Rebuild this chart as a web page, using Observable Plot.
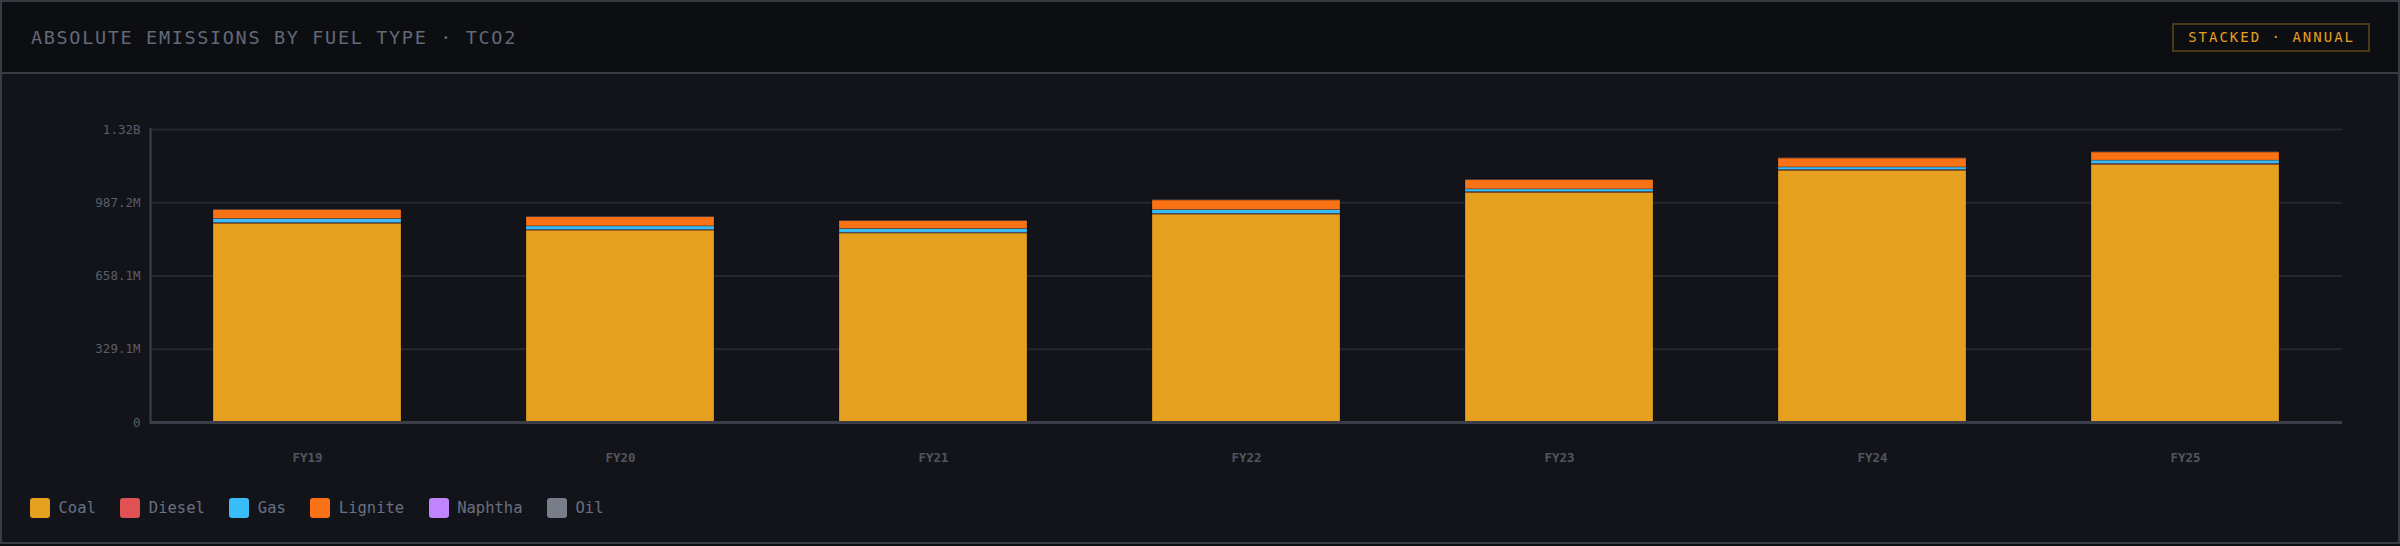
<!DOCTYPE html>
<html>
<head>
<meta charset="utf-8">
<script src="https://cdn.jsdelivr.net/npm/d3@7"></script>
<script src="https://cdn.jsdelivr.net/npm/@observablehq/plot@0.6"></script>
<style>
  html, body { margin: 0; padding: 0; background: #0c0d10; }
  #frame { width: 2400px; height: 544px; box-sizing: border-box; border: 2px solid #383a44; background: #131419; font-family: "DejaVu Sans Mono", monospace; overflow: hidden; }
  #header { height: 70px; border-bottom: 2px solid #383a44; background: #0d0e12; display: flex; align-items: center; justify-content: space-between; padding: 0 28px 0 29px; }
  #title { font-size: 18.5px; letter-spacing: 1.65px; color: #626978; }
  #badge { font-size: 14px; letter-spacing: 2px; color: #e6a020; border: 2px solid #4a3818; padding: 5px 13px 5px 14px; line-height: 15px; }
  #chart { height: 400px; }
  #legend { display: flex; align-items: center; padding: 24px 0 0 28px; height: 20px; }
  .item { display: flex; align-items: center; margin-right: 24.5px; }
  .sw { width: 20px; height: 20px; border-radius: 3px; margin-right: 8.5px; }
  .lab { font-size: 15.5px; color: #687081; }
</style>
</head>
<body>
<div id="frame">
  <div id="header"><div id="title"></div><div id="badge"></div></div>
  <div id="chart"></div>
  <div id="legend"></div>
</div>
<script>
const titleText = "ABSOLUTE EMISSIONS BY FUEL TYPE · TCO2";
const badgeText = "STACKED · ANNUAL";
const years = ["FY19", "FY20", "FY21", "FY22", "FY23", "FY24", "FY25"];
const fuels = ["Coal", "Diesel", "Gas", "Lignite", "Naphtha", "Oil"];
const fuelColors = ["#e6a020", "#e05252", "#38bdf8", "#f97316", "#c084fc", "#787d8a"];
// values in million tCO2
const coal    = [893, 862, 849, 934, 1032, 1131, 1158];
const diesel  = [3.2, 3.0, 2.8, 3.1, 3.3, 3.5, 3.6];
const gas     = [18, 16, 17.5, 17.5, 12, 11.5, 15];
const lignite = [41, 42, 36, 43.5, 42, 40.5, 37];
const naphtha = [0.6, 0.6, 0.5, 0.6, 0.6, 0.6, 0.6];
const oil     = [1.4, 1.4, 1.3, 1.4, 1.4, 1.3, 1.3];
const yMax = 1316.3e6;
const yTicks = [0, 329.075e6, 658.15e6, 987.225e6, 1316.3e6];
const yTickLabels = ["0", "329.1M", "658.1M", "987.2M", "1.32B"];

document.getElementById("title").textContent = titleText;
document.getElementById("badge").textContent = badgeText;

const series = [coal, diesel, gas, lignite, naphtha, oil];
const data = [];
years.forEach((yr, i) => {
  fuels.forEach((f, j) => data.push({year: yr, fuel: f, value: series[j][i] * 1e6}));
});

const chart = Plot.plot({
  width: 2396,
  height: 400,
  marginLeft: 148,
  marginRight: 56,
  marginTop: 55,
  marginBottom: 52,
  style: { background: "transparent", fontFamily: "DejaVu Sans Mono, monospace", fontSize: "12.5px", color: "#5a5e69" },
  x: { domain: years, padding: 0.4, paddingOuter: 0.2, label: null },
  y: { domain: [0, yMax], label: null },
  color: { domain: fuels, range: fuelColors },
  marks: [
    Plot.gridY(yTicks, { stroke: "#262830", strokeOpacity: 1, strokeWidth: 2 }),
    Plot.barY(data, { x: "year", y: "value", fill: "fuel", order: fuels, stroke: "#000", strokeOpacity: 0.22, strokeWidth: 1 }),
    Plot.axisY({ ticks: yTicks, tickFormat: (d) => yTickLabels[yTicks.indexOf(d)], tickSize: 0, tickPadding: 10, fill: "#5a5e69", fontSize: 12.5 }),
    Plot.axisX({ tickSize: 0, tickPadding: 31, fill: "#51555f", fontSize: 12.5, fontWeight: 600 }),
    Plot.frame({ anchor: "left", stroke: "#363944", strokeWidth: 2.5 }),
    Plot.ruleY([0], { stroke: "#3b3e48", strokeWidth: 3 })
  ]
});
document.getElementById("chart").appendChild(chart);

const legend = document.getElementById("legend");
fuels.forEach((f, i) => {
  const it = document.createElement("div"); it.className = "item";
  const sw = document.createElement("div"); sw.className = "sw"; sw.style.background = fuelColors[i];
  const lb = document.createElement("div"); lb.className = "lab"; lb.textContent = f;
  it.appendChild(sw); it.appendChild(lb); legend.appendChild(it);
});
</script>
</body>
</html>
